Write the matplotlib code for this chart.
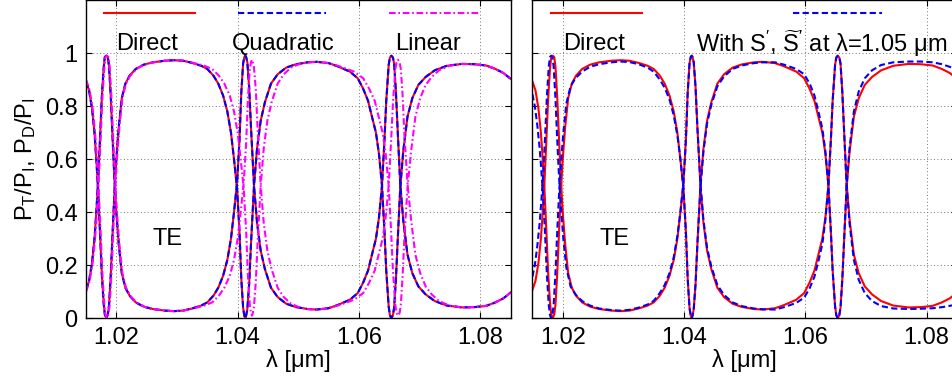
import matplotlib
matplotlib.use("Agg")
import matplotlib.pyplot as plt

plt.rcParams['font.family'] = ['Liberation Sans', 'DejaVu Sans']
plt.rcParams['mathtext.fontset'] = 'custom'
plt.rcParams['mathtext.rm'] = 'Liberation Sans'
plt.rcParams['mathtext.it'] = 'Liberation Sans:italic'

# ---- data ----
# direct calculation (also used for the quadratic fit, which lies on top of it)
lam_dir = [1.0150, 1.0155, 1.0160, 1.0164, 1.0167, 1.0170, 1.0173, 1.0176, 1.0179, 1.0181,
           1.01835, 1.0186, 1.0188, 1.0191, 1.0194, 1.0197, 1.0200, 1.0204, 1.0209, 1.0215,
           1.0222, 1.0232, 1.0245, 1.0260, 1.0280, 1.0295,
           1.0310, 1.0325, 1.0340, 1.0350, 1.0360, 1.0368, 1.0376, 1.0383, 1.0389, 1.0394,
           1.0399, 1.0403, 1.0406, 1.0409, 1.0411, 1.04127, 1.0414, 1.0416, 1.0419, 1.0422,
           1.0427, 1.0432, 1.0438, 1.0445, 1.0455, 1.0466, 1.0480, 1.0495, 1.0515, 1.0530,
           1.0550, 1.0565, 1.0585, 1.0598, 1.0607, 1.0615, 1.0622, 1.0628, 1.0633, 1.0638,
           1.0642, 1.0645, 1.0649, 1.0651, 1.06534, 1.0656, 1.0658, 1.0661, 1.0664, 1.0668,
           1.0673, 1.0680, 1.0688, 1.0698, 1.0710, 1.0725, 1.0745, 1.0770, 1.0790, 1.0810,
           1.0825, 1.0838, 1.0850]
pt_dir = [0.893, 0.86, 0.79, 0.70, 0.60, 0.48, 0.33, 0.17, 0.06, 0.015,
          0.0, 0.015, 0.05, 0.17, 0.33, 0.48, 0.60, 0.72, 0.83, 0.885,
          0.915, 0.94, 0.956, 0.965, 0.971, 0.973,
          0.971, 0.963, 0.952, 0.94, 0.915, 0.885, 0.84, 0.78, 0.70, 0.60,
          0.49, 0.33, 0.15, 0.04, 0.01, 0.0, 0.01, 0.035, 0.13, 0.28,
          0.50, 0.64, 0.745, 0.815, 0.885, 0.92, 0.945, 0.957, 0.965, 0.967,
          0.962, 0.95, 0.93, 0.905, 0.865, 0.82, 0.755, 0.70, 0.62, 0.50,
          0.33, 0.18, 0.045, 0.012, 0.0, 0.012, 0.04, 0.15, 0.30, 0.49,
          0.63, 0.76, 0.83, 0.88, 0.91, 0.935, 0.952, 0.959, 0.958, 0.953,
          0.94, 0.925, 0.903]
pd_dir = [0.107, 0.14, 0.21, 0.30, 0.40, 0.52, 0.67, 0.83, 0.94, 0.985,
          0.99, 0.985, 0.95, 0.83, 0.67, 0.52, 0.40, 0.28, 0.17, 0.115,
          0.085, 0.06, 0.044, 0.035, 0.029, 0.027,
          0.029, 0.037, 0.048, 0.06, 0.085, 0.115, 0.16, 0.22, 0.30, 0.40,
          0.51, 0.67, 0.85, 0.96, 0.985, 0.99, 0.985, 0.965, 0.87, 0.72,
          0.50, 0.36, 0.255, 0.185, 0.115, 0.08, 0.055, 0.043, 0.035, 0.033,
          0.038, 0.05, 0.07, 0.095, 0.135, 0.18, 0.245, 0.30, 0.38, 0.50,
          0.67, 0.82, 0.955, 0.983, 0.99, 0.983, 0.96, 0.85, 0.70, 0.51,
          0.37, 0.24, 0.17, 0.12, 0.09, 0.065, 0.048, 0.041, 0.042, 0.047,
          0.06, 0.075, 0.097]

# quadratic interpolation: indistinguishable from direct at this scale
lam_quad, pt_quad, pd_quad = lam_dir, pt_dir, pd_dir

# linear interpolation
lam_lin = [1.0150, 1.0156, 1.0161, 1.0165, 1.0168, 1.0171, 1.0174, 1.0177, 1.0180, 1.0182,
           1.01845, 1.0187, 1.0189, 1.0192, 1.0195, 1.0198, 1.0201, 1.0205, 1.0210, 1.0216,
           1.0223, 1.0233, 1.0246, 1.0261, 1.0280, 1.0295,
           1.0310, 1.0327, 1.0345, 1.0358, 1.0369, 1.0378, 1.0387, 1.0394, 1.0400, 1.0405,
           1.0410, 1.0414, 1.0417, 1.0420, 1.0422, 1.04237, 1.0425, 1.0427, 1.0430, 1.0433,
           1.0438, 1.0443, 1.0449, 1.0456, 1.0466, 1.0476, 1.0488, 1.0500, 1.0515, 1.0530,
           1.0550, 1.0568, 1.0592, 1.0607, 1.0617, 1.0626, 1.0633, 1.0639, 1.0644, 1.0649,
           1.0653, 1.0656, 1.0660, 1.0662, 1.06644, 1.0667, 1.0669, 1.0672, 1.0675, 1.0680,
           1.0686, 1.0693, 1.0701, 1.0710, 1.0720, 1.0732, 1.0749, 1.0770, 1.0790, 1.0810,
           1.0825, 1.0838, 1.0850]
pt_lin = [0.90, 0.86, 0.79, 0.70, 0.60, 0.48, 0.33, 0.17, 0.06, 0.015,
          0.0, 0.015, 0.05, 0.17, 0.33, 0.48, 0.60, 0.72, 0.83, 0.885,
          0.915, 0.94, 0.956, 0.965, 0.971, 0.973,
          0.971, 0.963, 0.952, 0.94, 0.915, 0.885, 0.84, 0.78, 0.70, 0.60,
          0.49, 0.33, 0.16, 0.05, 0.02, 0.01, 0.02, 0.045, 0.14, 0.29,
          0.50, 0.64, 0.745, 0.815, 0.885, 0.92, 0.945, 0.957, 0.965, 0.967,
          0.962, 0.95, 0.93, 0.905, 0.865, 0.82, 0.755, 0.70, 0.62, 0.50,
          0.33, 0.18, 0.05, 0.02, 0.01, 0.02, 0.05, 0.16, 0.31, 0.49,
          0.63, 0.76, 0.83, 0.88, 0.91, 0.935, 0.952, 0.959, 0.958, 0.953,
          0.94, 0.925, 0.903]
pd_lin = [0.10, 0.14, 0.21, 0.30, 0.40, 0.52, 0.67, 0.83, 0.94, 0.985,
          0.99, 0.985, 0.95, 0.83, 0.67, 0.52, 0.40, 0.28, 0.17, 0.115,
          0.085, 0.06, 0.044, 0.035, 0.029, 0.027,
          0.029, 0.037, 0.048, 0.06, 0.085, 0.115, 0.16, 0.22, 0.30, 0.40,
          0.51, 0.66, 0.83, 0.94, 0.965, 0.975, 0.965, 0.945, 0.86, 0.71,
          0.50, 0.36, 0.255, 0.185, 0.115, 0.08, 0.055, 0.043, 0.035, 0.033,
          0.038, 0.05, 0.07, 0.095, 0.135, 0.18, 0.245, 0.30, 0.38, 0.50,
          0.67, 0.81, 0.94, 0.965, 0.975, 0.965, 0.94, 0.84, 0.69, 0.51,
          0.37, 0.24, 0.17, 0.12, 0.09, 0.065, 0.048, 0.041, 0.042, 0.047,
          0.06, 0.075, 0.097]

# with S', S~' taken at lambda = 1.05 um
lam_s = [1.0150, 1.0154, 1.0158, 1.0162, 1.0165, 1.0168, 1.0171, 1.0174, 1.0177, 1.0179,
         1.0181, 1.0183, 1.0185, 1.0188, 1.0191, 1.0194, 1.0197, 1.0201, 1.0206, 1.0213,
         1.0221, 1.0232, 1.0245, 1.0260, 1.0280, 1.0295,
         1.0310, 1.0325, 1.0340, 1.0350, 1.0360, 1.0368, 1.0376, 1.0383, 1.0389, 1.0394,
         1.0399, 1.0403, 1.0406, 1.0409, 1.0411, 1.04127, 1.0414, 1.0416, 1.0419, 1.0422,
         1.0427, 1.0432, 1.0438, 1.0445, 1.0455, 1.0466, 1.0480, 1.0495, 1.0515, 1.0530,
         1.0550, 1.0565, 1.0585, 1.0598, 1.0607, 1.0615, 1.0622, 1.0628, 1.0633, 1.0638,
         1.0642, 1.0645, 1.0649, 1.0651, 1.06534, 1.0656, 1.0658, 1.0661, 1.0664, 1.0668,
         1.0673, 1.0680, 1.0688, 1.0698, 1.0710, 1.0725, 1.0745, 1.0770, 1.0790, 1.0810,
         1.0825, 1.0838, 1.0850]
pt_s = [0.845, 0.80, 0.73, 0.64, 0.55, 0.45, 0.31, 0.16, 0.05, 0.012,
        0.0, 0.012, 0.05, 0.17, 0.33, 0.47, 0.58, 0.70, 0.81, 0.875,
        0.905, 0.93, 0.948, 0.958, 0.965, 0.968,
        0.966, 0.958, 0.945, 0.93, 0.90, 0.87, 0.825, 0.765, 0.69, 0.60,
        0.49, 0.33, 0.15, 0.04, 0.01, 0.0, 0.01, 0.035, 0.13, 0.28,
        0.49, 0.63, 0.735, 0.805, 0.875, 0.912, 0.94, 0.953, 0.962, 0.965,
        0.965, 0.956, 0.94, 0.92, 0.885, 0.84, 0.775, 0.715, 0.63, 0.50,
        0.33, 0.18, 0.045, 0.012, 0.0, 0.012, 0.04, 0.15, 0.30, 0.50,
        0.645, 0.78, 0.855, 0.905, 0.935, 0.955, 0.965, 0.968, 0.968, 0.965,
        0.958, 0.948, 0.935]
pd_s = [0.157, 0.20, 0.27, 0.36, 0.45, 0.55, 0.69, 0.84, 0.95, 0.985,
        0.99, 0.985, 0.95, 0.83, 0.67, 0.53, 0.42, 0.30, 0.19, 0.12,
        0.09, 0.065, 0.048, 0.037, 0.031, 0.029,
        0.032, 0.04, 0.052, 0.066, 0.095, 0.125, 0.17, 0.23, 0.31, 0.40,
        0.51, 0.67, 0.85, 0.96, 0.985, 0.99, 0.985, 0.965, 0.87, 0.72,
        0.51, 0.37, 0.265, 0.195, 0.125, 0.088, 0.06, 0.046, 0.037, 0.034,
        0.033, 0.042, 0.058, 0.078, 0.113, 0.157, 0.22, 0.28, 0.37, 0.50,
        0.67, 0.82, 0.955, 0.983, 0.99, 0.983, 0.96, 0.85, 0.70, 0.50,
        0.355, 0.22, 0.145, 0.095, 0.065, 0.046, 0.037, 0.035, 0.036, 0.038,
        0.042, 0.047, 0.052]

xticks = [1.02, 1.04, 1.06, 1.08]
yticks = [0, 0.2, 0.4, 0.6, 0.8, 1.0]
ytick_labels = ['0', '0.2', '0.4', '0.6', '0.8', '1']

RED = (1, 0, 0)
BLUE = (0, 0, 1)
MAG = (1, 0, 1)
FS = 17


def style_axes(ax, labels=True):
    ax.set_xlim(1.015, 1.085)
    ax.set_ylim(0, 1.2)
    ax.set_xticks(xticks)
    ax.set_xticklabels(['%.2f' % v for v in xticks])
    ax.set_yticks(yticks)
    if labels:
        ax.set_yticklabels(ytick_labels)
    else:
        ax.set_yticklabels([])
    ax.tick_params(direction='in', length=4, width=0.8, top=True, right=True,
                   labelsize=FS, pad=6)
    for s in ax.spines.values():
        s.set_linewidth(1.0)
    ax.grid(True, linestyle=(0, (1, 2.5)), color='0.45', linewidth=0.7)
    ax.set_axisbelow(True)
    ax.set_xlabel('λ [μm]', fontsize=FS, labelpad=0)
    ax.text(1.0285, 0.30, 'TE', fontsize=FS, ha='center', va='center')


def key(ax, x0, x1, **kw):
    ax.plot([x0, x1], [0.958, 0.958], transform=ax.transAxes, clip_on=False, **kw)


fig = plt.figure(figsize=(9.53, 3.76), dpi=100)
ax1 = fig.add_axes([86 / 953, 57.7 / 376, 424.6 / 953, 318.3 / 376])
ax2 = fig.add_axes([532.4 / 953, 57.7 / 376, 424.6 / 953, 318.3 / 376])

red_kw = dict(color=RED, lw=1.5)
blue_kw = dict(color=BLUE, lw=1.5, ls='--', dashes=(3, 1.6))
mag_kw = dict(color=MAG, lw=1.5, ls='-.', dashes=(3.2, 1.3, 0.8, 1.3))

# left panel
style_axes(ax1)
ax1.plot(lam_dir, pt_dir, **red_kw)
ax1.plot(lam_dir, pd_dir, **red_kw)
ax1.plot(lam_quad, pt_quad, **blue_kw)
ax1.plot(lam_quad, pd_quad, **blue_kw)
ax1.plot(lam_lin, pt_lin, **mag_kw)
ax1.plot(lam_lin, pd_lin, **mag_kw)
ax1.set_ylabel(r'P$_\mathregular{T}$/P$_\mathregular{I}$, P$_\mathregular{D}$/P$_\mathregular{I}$',
               fontsize=FS, labelpad=5)
key(ax1, 0.042, 0.257, **red_kw)
key(ax1, 0.358, 0.565, **blue_kw)
key(ax1, 0.713, 0.928, **mag_kw)
ax1.text(0.1436, 0.862, 'Direct', transform=ax1.transAxes, fontsize=FS, ha='center', va='center')
ax1.text(0.464, 0.862, 'Quadratic', transform=ax1.transAxes, fontsize=FS, ha='center', va='center')
ax1.text(0.805, 0.862, 'Linear', transform=ax1.transAxes, fontsize=FS, ha='center', va='center')

# right panel
style_axes(ax2, labels=False)
ax2.plot(lam_dir, pt_dir, **red_kw)
ax2.plot(lam_dir, pd_dir, **red_kw)
ax2.plot(lam_s, pt_s, **blue_kw)
ax2.plot(lam_s, pd_s, **blue_kw)
key(ax2, 0.043, 0.257, **red_kw)
key(ax2, 0.614, 0.823, **blue_kw)
ax2.text(0.145, 0.862, 'Direct', transform=ax2.transAxes, fontsize=FS, ha='center', va='center')
ax2.text(0.681, 0.862, r"With S$^{\prime}$, $\widetilde{\mathrm{S}}^{\prime}$ at λ=1.05 μm",
         transform=ax2.transAxes, fontsize=FS, ha='center', va='center')

fig.savefig('out.png', dpi=100)
